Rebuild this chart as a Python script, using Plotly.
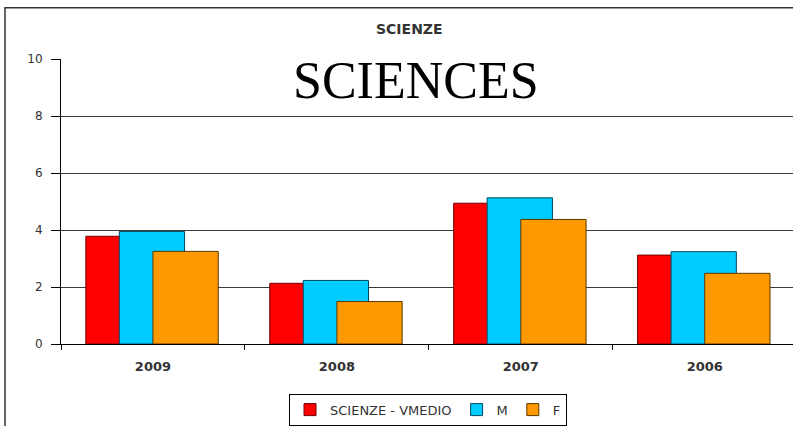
import plotly.graph_objects as go

years = ["2009", "2008", "2007", "2006"]
vmedio = [3.78, 2.13, 4.94, 3.12]
m_vals = [3.95, 2.23, 5.13, 3.24]
f_vals = [3.25, 1.49, 4.37, 2.48]
yticks = [0, 2, 4, 6, 8, 10]

series = [
    ("SCIENZE - VMEDIO", vmedio, "#FF0000", "#700000", -0.365),
    ("M", m_vals, "#00CCFF", "#004a60", -0.183),
    ("F", f_vals, "#FF9900", "#5a3800", 0.0),
]

fig = go.Figure()
for name, vals, col, lc, off in series:
    fig.add_trace(go.Bar(
        x=years, y=vals, name=name,
        marker=dict(color=col, line=dict(color=lc, width=1)),
        width=0.355, offset=off,
    ))

W, H = 793, 426
ml, mr, mt, mb = 61, 0, 59, 80
pw, ph = W - ml - mr, H - mt - mb

def px_x(x):
    return (x - ml) / pw

def px_y(y):
    return (H - mb - y) / ph

fig.update_layout(
    width=W, height=H,
    margin=dict(l=ml, r=mr, t=mt, b=mb, pad=0),
    barmode="overlay",
    paper_bgcolor="white", plot_bgcolor="white",
    font=dict(family="DejaVu Sans", color="#333333", size=11),
    showlegend=True,
    legend=dict(
        orientation="h", x=px_x(428), xanchor="center", y=px_y(396), yanchor="top",
        bordercolor="#000000", borderwidth=1, bgcolor="white",
        font=dict(size=13, color="#333333"), traceorder="normal",
        itemwidth=30, tracegroupgap=0,
    ),
    xaxis=dict(
        type="category", range=[-0.5, 3.48],
        showline=True, linecolor="#000000", linewidth=1,
        ticks="outside", tickson="boundaries", ticklen=5, tickcolor="#000000",
        showgrid=False, ticklabelstandoff=10,
        tickfont=dict(family="DejaVu Sans", size=13, color="#333333", weight="bold"),
    ),
    yaxis=dict(
        range=[0, 10], tickvals=yticks, ticktext=[str(v) for v in yticks],
        showline=True, linecolor="#000000", linewidth=1,
        ticks="outside", ticklen=9, tickcolor="#000000",
        showgrid=True, gridcolor="#3a3a3a", gridwidth=1.2,
        zeroline=False, ticklabelstandoff=6,
        tickfont=dict(family="DejaVu Sans", size=12, color="#333333"),
    ),
    shapes=[dict(
        type="rect", xref="paper", yref="paper",
        x0=px_x(5), x1=px_x(900), y0=px_y(600), y1=px_y(7.5),
        line=dict(color="#333333", width=1.5), fillcolor="rgba(0,0,0,0)", layer="above",
    )],
    annotations=[
        dict(text="<b>SCIENZE</b>", xref="paper", yref="paper", x=px_x(409), y=px_y(29),
             xanchor="center", yanchor="middle", showarrow=False,
             font=dict(family="DejaVu Sans", size=14, color="#333333")),
        dict(text="SCIENCES", xref="paper", yref="paper", x=px_x(416), y=px_y(81),
             xanchor="center", yanchor="middle", showarrow=False,
             font=dict(family="Liberation Serif", size=52, color="#000000")),
    ],
)

fig.write_html("out.html", config={"displayModeBar": False},
               post_script="document.body.style.margin='0px';")
